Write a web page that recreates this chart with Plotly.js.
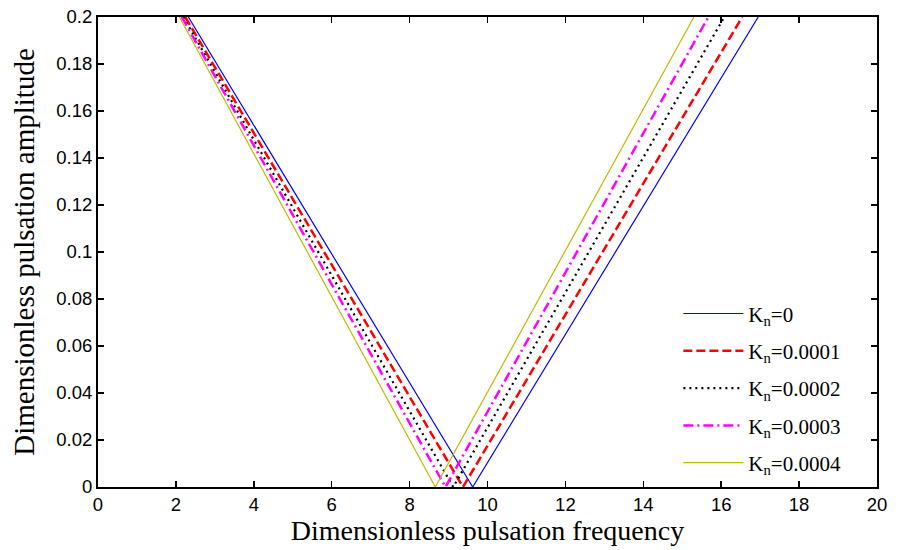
<!DOCTYPE html>
<html>
<head>
<meta charset="utf-8">
<script src="https://cdn.plot.ly/plotly-3.0.1.min.js"></script>
<style>html,body{margin:0;padding:0;background:#fff;}#chart{width:898px;height:550px;}</style>
</head>
<body>
<div id="chart"></div>
<script>
// Series labels (Knudsen-like parameter K_n)
const seriesNames = ["K<sub>n</sub>=0", "K<sub>n</sub>=0.0001", "K<sub>n</sub>=0.0002", "K<sub>n</sub>=0.0003", "K<sub>n</sub>=0.0004"];
// Frequency where left branch reaches amplitude 0.2
const leftTopFreq = [2.32, 2.24, 2.19, 2.15, 2.09];
// Frequency at zero amplitude (vertex of the V)
const vertexFreq = [9.62, 9.37, 9.12, 8.92, 8.66];
// Frequency where right branch reaches amplitude 0.2
const rightTopFreq = [16.95, 16.54, 16.08, 15.67, 15.30];
// Amplitudes at the three points of each curve
const amplitudes = [0.2, 0, 0.2];

const colors = ["#0000ff", "#ff0000", "#000000", "#ff00ff", "#c2b800"];
const dashes = ["solid", "9px,4px", "2px,4px", "10px,4px,2px,4px", "solid"];
const widths = [1.2, 2.5, 2.2, 2.5, 1.2];

const traces = seriesNames.map((name, i) => ({
  type: "scatter",
  mode: "lines",
  name: name,
  legendgroup: "g" + i,
  x: [leftTopFreq[i], vertexFreq[i], rightTopFreq[i]],
  y: amplitudes,
  line: {color: colors[i], dash: dashes[i], width: widths[i]}
}));

const layout = {
  width: 898, height: 550,
  margin: {l: 97.7, r: 21, t: 17, b: 62.5},
  paper_bgcolor: "#fff", plot_bgcolor: "#fff",
  showlegend: true,
  legend: {
    x: 0.745, y: 0.412, xanchor: "left", yanchor: "top",
    bgcolor: "rgba(255,255,255,0)", borderwidth: 0,
    font: {family: "Liberation Serif", size: 21, color: "#000"},
    tracegroupgap: 7, itemwidth: 60
  },
  xaxis: {
    range: [0, 20], dtick: 2, tick0: 0,
    showgrid: false, zeroline: false,
    showline: true, mirror: "ticks", linecolor: "#000", linewidth: 2,
    ticks: "inside", ticklen: 6, tickcolor: "#000", tickwidth: 1.5,
    tickfont: {family: "Liberation Sans", size: 18.5, color: "#000"},
    title: {text: "Dimensionless pulsation frequency", font: {family: "Liberation Serif", size: 28, color: "#000"}, standoff: 6}
  },
  yaxis: {
    range: [0, 0.2], dtick: 0.02, tick0: 0,
    showgrid: false, zeroline: false,
    showline: true, mirror: "ticks", linecolor: "#000", linewidth: 2,
    ticks: "inside", ticklen: 6, tickcolor: "#000", tickwidth: 1.5,
    tickfont: {family: "Liberation Sans", size: 18.5, color: "#000"},
    title: {text: "Dimensionless pulsation amplitude", font: {family: "Liberation Serif", size: 29, color: "#000"}, standoff: 13}
  }
};

Plotly.newPlot("chart", traces, layout, {displayModeBar: false, staticPlot: true});
</script>
</body>
</html>
